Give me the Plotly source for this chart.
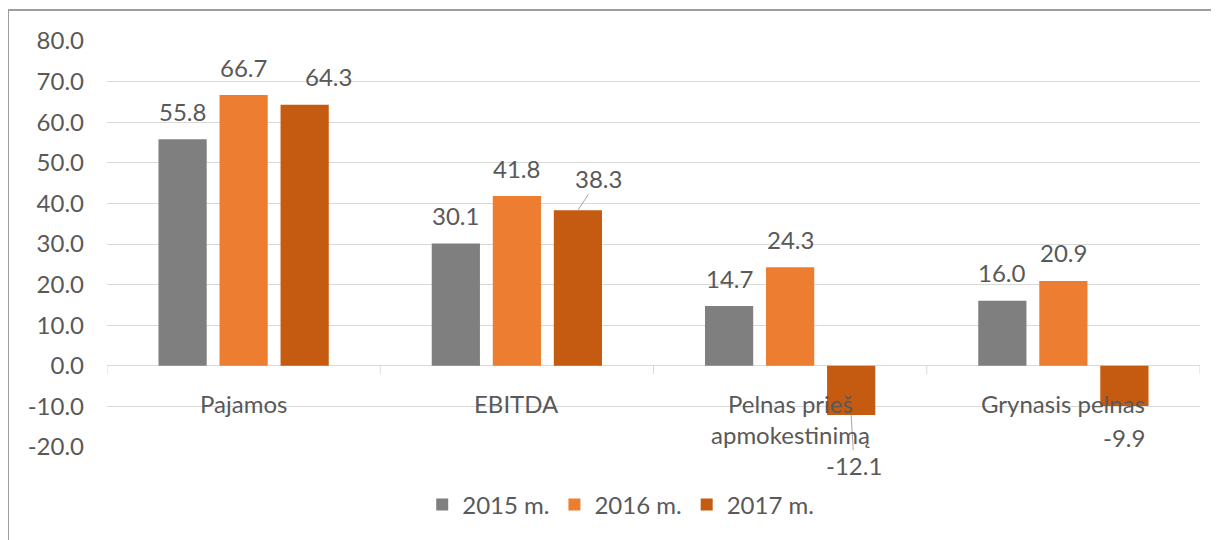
import plotly.graph_objects as go

# duomenys
kategorijos = ["Pajamos", "EBITDA", "Pelnas prieš<br>apmokestinimą", "Grynasis pelnas"]
metai = ["2015 m.", "2016 m.", "2017 m."]
v2015 = [55.8, 30.1, 14.7, 16.0]
v2016 = [66.7, 41.8, 24.3, 20.9]
v2017 = [64.3, 38.3, -12.1, -9.9]
y_ticks = [-20, -10, 0, 10, 20, 30, 40, 50, 60, 70, 80]

spalvos = ["#7F7F7F", "#ED7D31", "#C55A11"]
teksto_spalva = "#595959"
srifto = "Lato"
fs = 24

# išdėstymas (px) - puslapis turi 8px paraštę
W, H = 1211, 532
ml, mr, mt, mb = 99, 19, 33, 93
plot_w = W - ml - mr
plot_h = H - mt - mb
bargap = 0.33
slot = plot_w / len(kategorijos) * (1 - bargap) / 3

fig = go.Figure()
for name, vals, col in zip(metai, [v2015, v2016, v2017], spalvos):
    fig.add_trace(go.Bar(x=kategorijos, y=vals, name=name, marker_color=col,
                         marker_line_width=0))

# reikšmių etiketės
anots = []
for i, vals in enumerate([v2015, v2016, v2017]):
    for j, v in enumerate(vals):
        dx = (i - 1) * slot
        a = dict(x=kategorijos[j], y=v, xref="x", yref="y", text=f"{v:.1f}",
                 showarrow=False, xshift=dx, yshift=28 if v >= 0 else -32,
                 font=dict(family=srifto, size=fs, color=teksto_spalva))
        if i == 2 and j == 0:
            a["xshift"] = dx + 24
        if i == 2 and j == 1:
            a.update(showarrow=True, arrowhead=0, arrowwidth=1, arrowcolor="#A6A6A6",
                     ax=21, ay=-32, yshift=0, standoff=0)
        if i == 2 and j == 2:
            a.update(showarrow=True, arrowhead=0, arrowwidth=1, arrowcolor="#A6A6A6",
                     ax=3, ay=51, yshift=0, standoff=0)
        anots.append(a)

# kategorijų pavadinimai prie nulinės ašies
for k in kategorijos:
    anots.append(dict(x=k, y=0, xref="x", yref="y", text=k, showarrow=False,
                      yanchor="top", yshift=-21,
                      font=dict(family=srifto, size=fs, color=teksto_spalva)))

# brūkšneliai ties kategorijų ribomis
shapes = []
for b in range(len(kategorijos) + 1):
    shapes.append(dict(type="line", xref="x", yref="y", x0=b - 0.5, x1=b - 0.5,
                       y0=0, y1=-2, line=dict(color="#D9D9D9", width=1)))

# rėmelis aplink diagramą
shapes.append(dict(type="rect", xref="paper", yref="paper",
                   x0=(0 - ml) / plot_w, x1=(W + 6 - ml) / plot_w,
                   y0=-(H + 6 - mt - plot_h) / plot_h, y1=(H - mb - 2) / plot_h,
                   line=dict(color="#9E9E9E", width=2), layer="below"))

fig.update_layout(
    width=W, height=H,
    margin=dict(l=ml, r=mr, t=mt, b=mb),
    barmode="group", bargap=bargap, bargroupgap=0.21,
    plot_bgcolor="white", paper_bgcolor="white",
    font=dict(family=srifto, size=fs, color=teksto_spalva),
    annotations=anots, shapes=shapes,
    legend=dict(orientation="h", x=0.47, xanchor="center",
                y=(H - mb - 497) / plot_h, yanchor="middle",
                font=dict(family=srifto, size=fs, color=teksto_spalva),
                itemclick=False),
    xaxis=dict(showticklabels=False, showgrid=False, showline=False, ticks="",
               range=[-0.5, 3.5]),
    yaxis=dict(range=[-20, 80], tickvals=y_ticks,
               ticktext=[f"{t:.1f}" for t in y_ticks],
               showgrid=True, gridcolor="#D9D9D9", gridwidth=1,
               zeroline=True, zerolinecolor="#D9D9D9", zerolinewidth=1,
               showline=False, ticks="", ticklabelstandoff=22,
               tickfont=dict(family=srifto, size=fs, color=teksto_spalva)),
)

fig.write_html("out.html")
